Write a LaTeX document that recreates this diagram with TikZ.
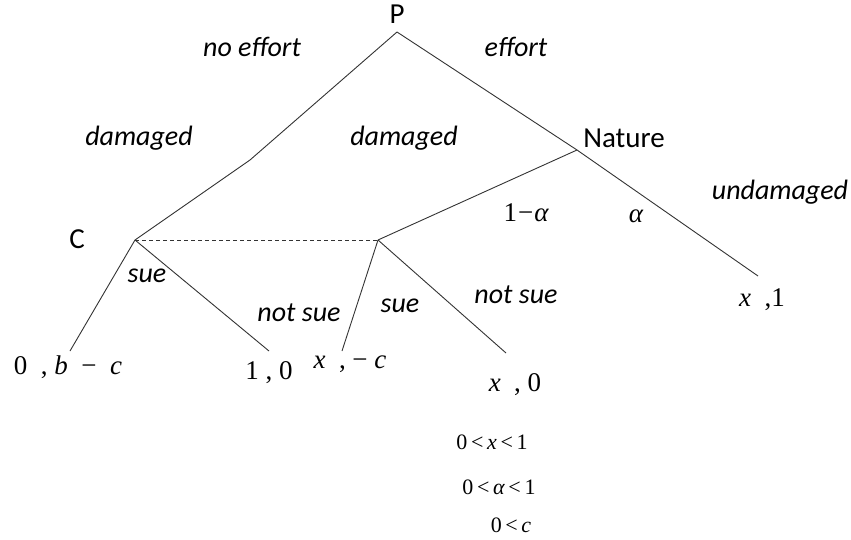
\documentclass[tikz,border=0pt]{standalone}
\usepackage{fontspec}
\setmainfont{Carlito}
\newfontfamily\payfont{Liberation Serif}
\newcommand{\mv}[1]{{\itshape #1}}
\tikzset{
	branch/.style = {line width = 0.9pt, black!80},
	act/.style = {font = \fontsize{28}{32}\selectfont\itshape},
	player/.style = {font = \fontsize{29}{33}\selectfont},
	pay/.style = {font = \payfont\fontsize{27}{31}\selectfont},
	cond/.style = {font = \payfont\fontsize{22}{26}\selectfont},
}
\begin{document}
\begin{tikzpicture} [x = 1pt, y = -1pt]
	\useasboundingbox (0,0) rectangle (851,540);
	% decision points and ends of branches
	\coordinate (p) at (397,32);
	\coordinate (kink) at (250,160);
	\coordinate (c) at (135,240);
	\coordinate (nat) at (577,150);
	\coordinate (c2) at (378,240);
	\coordinate (undam) at (758,276);
	\coordinate (e1) at (70,351);
	\coordinate (e2) at (269,351);
	\coordinate (e3) at (342,351);
	\coordinate (e4) at (506,353);
	% branches
	\draw [branch] (p) -- (kink) -- (c);
	\draw [branch] (p) -- (nat) -- (undam);
	\draw [branch] (nat) -- (c2);
	\draw [branch] (c) -- (e1);
	\draw [branch] (c) -- (e2);
	\draw [branch] (c2) -- (e3);
	\draw [branch] (c2) -- (e4);
	\draw [branch, dashed, dash pattern = on 4pt off 3pt] (c) -- (c2);
	% players
	\node [player] (pl) at (397,14) {P};
	\node [player] (natl) at (624,138) {Nature};
	\node [player] (cl) at (77,239) {C};
	% actions
	\node [act] (noeff) at (252,47) {no effort};
	\node [act] (eff) at (516,47) {effort};
	\node [act] (dam1) at (139,138) {damaged};
	\node [act] (dam2) at (404,138) {damaged};
	\node [act] (undaml) at (780,192) {undamaged};
	\node [act] (sue1) at (147,276) {sue};
	\node [act] (nsue1) at (299,313) {not sue};
	\node [act] (sue2) at (400,306) {sue};
	\node [act] (nsue2) at (516,295) {not sue};
	% probabilities
	\node [pay] (pr1) at (526,213) {1\kern1pt−\kern1pt\mv{α}};
	\node [pay] (pr2) at (636,216) {\mv{α}};
	% payoffs
	\node [pay] (u1) at (68,367) {0\ \ ,\ \mv{b}\ \ −\ \ \mv{c}};
	\node [pay] (u2) at (269,373) {1 , 0};
	\node [pay] (u3) at (350,364) {\mv{x}\ \ , −\ \mv{c}};
	\node [pay] (u4) at (515,385) {\mv{x}\ \ , 0};
	\node [pay] (u5) at (762,300) {\mv{x}\ \ ,1};
	% conditions
	\node [cond] (k1) at (492,442) {0\,<\,\mv{x}\,<\,1};
	\node [cond] (k2) at (499,487) {0\,<\,\mv{α}\,<\,1};
	\node [cond] (k3) at (511,525) {0\,<\,\mv{c}};
\end{tikzpicture}
\end{document}
